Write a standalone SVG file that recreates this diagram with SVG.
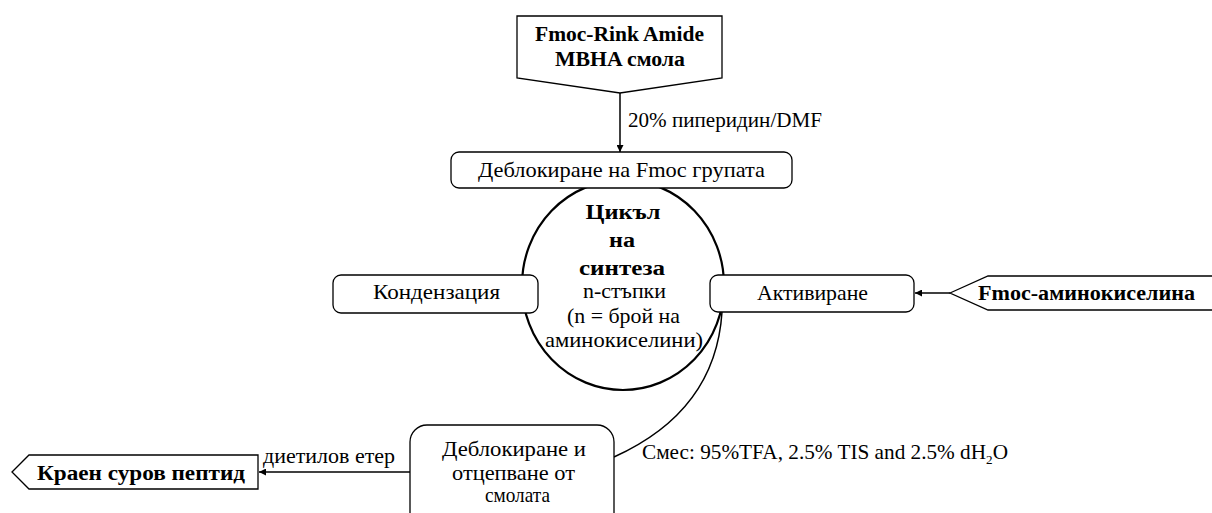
<svg xmlns="http://www.w3.org/2000/svg" width="1212" height="513" viewBox="0 0 1212 513">
<style>
  .box { fill: #ffffff; stroke: #000000; stroke-width: 1.3; }
  .circ { fill: #ffffff; stroke: #000000; stroke-width: 2.2; }
  .conn { fill: none; stroke: #000000; stroke-width: 1.5; }
  .t { font-family: "Liberation Serif", "Times New Roman", serif; font-size: 21px; fill: #000000; }
  .b { font-family: "Liberation Serif", "Times New Roman", serif; font-size: 20.5px; font-weight: bold; fill: #000000; }
  .c { text-anchor: middle; }
</style>
<defs>
  <marker id="arr" viewBox="0 0 10 10" refX="10" refY="5" markerWidth="8" markerHeight="7" markerUnits="userSpaceOnUse" orient="auto">
    <path d="M0,0 L10,5 L0,10 z" fill="#000000"/>
  </marker>
</defs>
<rect width="1212" height="513" fill="#ffffff"/>

<g id="connectors">
  <line class="conn" x1="620" y1="93" x2="620" y2="152" marker-end="url(#arr)"/>
  <line class="conn" x1="950" y1="293" x2="915" y2="293" marker-end="url(#arr)"/>
  <line class="conn" x1="410" y1="472" x2="259" y2="472" marker-end="url(#arr)"/>
  <path class="conn" d="M722,312 C718,375 685,425 614,457"/>
  <text class="t" x="628" y="127" textLength="194" lengthAdjust="spacingAndGlyphs">20% пиперидин/DMF</text>
  <text class="t" x="263" y="463" textLength="132" lengthAdjust="spacingAndGlyphs">диетилов етер</text>
  <text class="t" x="642" y="459" textLength="366" lengthAdjust="spacingAndGlyphs">Смес: 95%TFA, 2.5% TIS and 2.5% dH<tspan font-size="13" dy="5">2</tspan><tspan dy="-5">O</tspan></text>
</g>

<g id="cycle">
  <ellipse class="circ" cx="623" cy="285" rx="101" ry="105"/>
  <text class="b c" x="623" y="219" textLength="75" lengthAdjust="spacingAndGlyphs">Цикъл</text>
  <text class="b c" x="622" y="247" textLength="26" lengthAdjust="spacingAndGlyphs">на</text>
  <text class="b c" x="622" y="275" textLength="86" lengthAdjust="spacingAndGlyphs">синтеза</text>
  <text class="t c" x="624.5" y="298" textLength="83" lengthAdjust="spacingAndGlyphs">n-стъпки</text>
  <text class="t c" x="623.5" y="323" textLength="113" lengthAdjust="spacingAndGlyphs">(n = брой на</text>
  <text class="t c" x="624" y="347" textLength="158" lengthAdjust="spacingAndGlyphs">аминокиселини)</text>
</g>

<g id="resin">
  <polygon class="box" points="517,16 722,16 722,78 620,93 517,78"/>
  <text class="b c" x="619.5" y="41" textLength="169" lengthAdjust="spacingAndGlyphs">Fmoc-Rink Amide</text>
  <text class="b c" x="620" y="66" textLength="130" lengthAdjust="spacingAndGlyphs">MBHA смола</text>
</g>

<g id="deprotect">
  <rect class="box" x="451" y="152" width="341" height="36" rx="8"/>
  <text class="t c" x="621.5" y="177" textLength="287" lengthAdjust="spacingAndGlyphs">Деблокиране на Fmoc групата</text>
</g>

<g id="condensation">
  <rect class="box" x="333" y="275" width="205" height="38" rx="8"/>
  <text class="t c" x="436.5" y="299" textLength="127" lengthAdjust="spacingAndGlyphs">Кондензация</text>
</g>

<g id="activation">
  <rect class="box" x="710" y="275" width="204" height="37" rx="8"/>
  <text class="t c" x="812.5" y="300" textLength="111" lengthAdjust="spacingAndGlyphs">Активиране</text>
</g>

<g id="aminoacid">
  <polygon class="box" points="950,293 988,276 1220,276 1220,310 988,310"/>
  <text class="b" x="978" y="300" textLength="217" lengthAdjust="spacingAndGlyphs">Fmoc-аминокиселина</text>
</g>

<g id="cleavage">
  <rect class="box" x="410" y="425" width="204" height="110" rx="17"/>
  <text class="t c" x="514" y="456" textLength="144" lengthAdjust="spacingAndGlyphs">Деблокиране и</text>
  <text class="t c" x="513.5" y="480" textLength="123" lengthAdjust="spacingAndGlyphs">отцепване от</text>
  <text class="t c" x="517.5" y="502" textLength="65" lengthAdjust="spacingAndGlyphs">смолата</text>
</g>

<g id="peptide">
  <polygon class="box" points="12,472 29,455 258,455 258,489 29,489"/>
  <text class="b" x="37" y="480" textLength="208" lengthAdjust="spacingAndGlyphs">Краен суров пептид</text>
</g>
</svg>
